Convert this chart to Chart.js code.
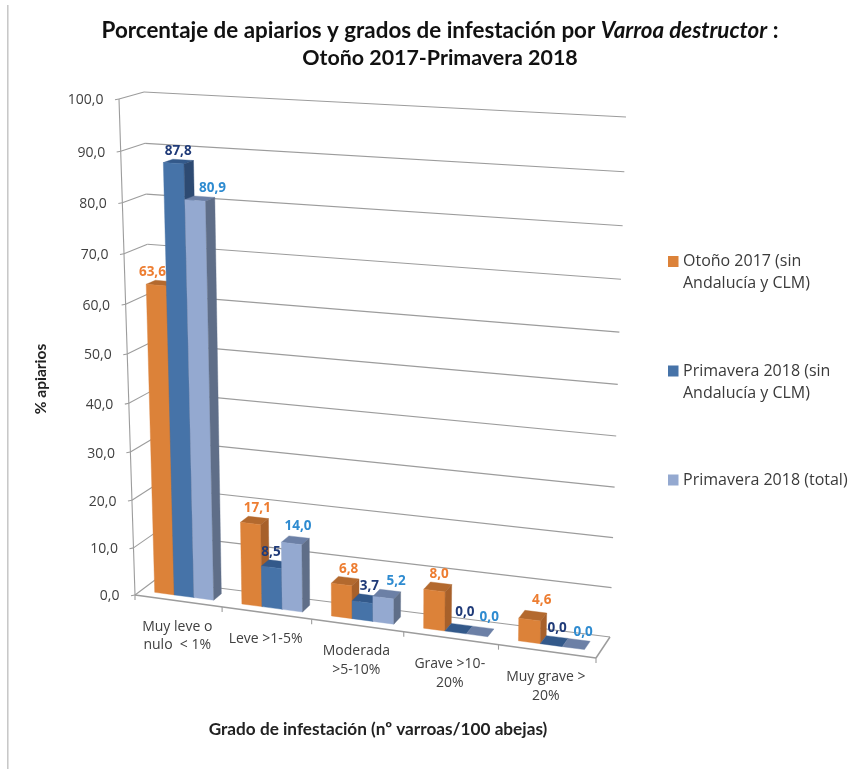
<!DOCTYPE html>
<html><head><meta charset="utf-8">
<style>html,body{margin:0;padding:0;background:#fff}canvas{display:block;filter:blur(0.45px)}</style>
<script src="https://cdn.jsdelivr.net/npm/chart.js@4"></script></head>
<body><canvas id="c" width="856" height="769"></canvas>
<script>
const categories=[['Muy leve o','nulo  < 1%'],['Leve >1-5%'],['Moderada','>5-10%'],['Grave >10-','20%'],['Muy grave >','20%']];
const otono2017=[63.6,17.1,6.8,8.0,4.6];
const primavera2018=[87.8,8.5,3.7,0.0,0.0];
const primavera2018Total=[80.9,14.0,5.2,0.0,0.0];
const seriesNames=['Otoño 2017 (sin Andalucía y CLM)','Primavera 2018 (sin Andalucía y CLM)','Primavera 2018 (total)'];
const legendLines=[['Otoño 2017 (sin','Andalucía y CLM)'],['Primavera 2018 (sin','Andalucía y CLM)'],['Primavera 2018 (total)']];
const yTicks=[0,10,20,30,40,50,60,70,80,90,100];

const faceColors=['#DC8239','#4673A8','#94A9D0'];
const sideColors=['#A7602A','#2D4A72','#5F6E88'];
const topColors=['#B3692E','#33598A','#6C80A6'];
const labelColors=['#ED7D31','#1F3A78','#2E8BD0'];
const GRID='#9c9c9c';
const TXT='#404040';
const SANS='"Open Sans"';
const D0=0.30,D1=0.70;
const fmt=v=>v.toFixed(1).replace('.',',');
// label nudges (px) by [series][category]
const nudge={0:{0:[-13,0],1:[-1,0],3:[-2,0],4:[6,-3]},
             1:{0:[-5,0],1:[-8,0],3:[3,-4]},
             2:{0:[8,0],1:[-1,-2],2:[6,0],3:[6,-1],4:[4,1]}};

// 3D box corners of the plot (front/back, left/right, bottom/top)
const C={flb:[135,595],frb:[596,658],flt:[119,99],frt:[607,130],blb:[155,580],brb:[610,637],blt:[144,92],brt:[626,117]};
const warp=(t,k)=>t*(1+k)/(1+k*t);
function P(u,v,d){
  const a=warp(u,-0.068),b=warp(v,-0.055);
  const l=(p,q,t)=>[p[0]+(q[0]-p[0])*t,p[1]+(q[1]-p[1])*t];
  const fb=l(C.flb,C.frb,a),ft=l(C.flt,C.frt,a),bb=l(C.blb,C.brb,a),bt=l(C.blt,C.brt,a);
  return l(l(fb,ft,b),l(bb,bt,b),d);
}
function line(ctx,a,b){ctx.beginPath();ctx.moveTo(a[0],a[1]);ctx.lineTo(b[0],b[1]);ctx.stroke();}
function quad(ctx,pts,col){ctx.fillStyle=col;ctx.beginPath();pts.forEach((p,i)=>i?ctx.lineTo(p[0],p[1]):ctx.moveTo(p[0],p[1]));ctx.closePath();ctx.fill();ctx.strokeStyle=col;ctx.lineWidth=0.4;ctx.stroke();}
function txt(ctx,s,x,y,font,col,al){ctx.font=font;ctx.fillStyle=col;ctx.textAlign=al||'center';ctx.textBaseline='middle';ctx.fillText(s,x,y);}

const scene={id:'scene',
 beforeDatasetsDraw(ch){
  const ctx=ch.ctx,a=ch.chartArea,ys=ch.scales.y,xs=ch.scales.x;
  ctx.save();
  // frame line
  ctx.strokeStyle='#c6c6c6';ctx.lineWidth=1.5;line(ctx,[7.8,5],[7.8,769]);
  // grid
  ctx.strokeStyle=GRID;ctx.lineWidth=1.1;
  ys.ticks.forEach(t=>{
    const v=(a.bottom-ys.getPixelForValue(t.value))/(a.bottom-a.top);
    const f=P(0,v,0),b=P(0,v,1),r=P(1,v,1);
    line(ctx,[f[0]-4,f[1]+0.8],f);line(ctx,f,b);line(ctx,b,r);
    txt(ctx,t.label,f[0]-15.5,f[1]+1.5,'14px '+SANS,TXT,'right');
  });
  line(ctx,P(0,0,0),P(0,1,0));
  ctx.lineWidth=1.5;
  line(ctx,P(0,0,0),P(1,0,0));line(ctx,P(1,0,0),P(1,0,1));
  ctx.lineWidth=1.1;
  const n=categories.length;
  for(let i=0;i<=n;i++){const p=P(i/n,0,0);line(ctx,p,[p[0],p[1]+5]);}
  // category labels
  xs.ticks.forEach((t,i)=>{
    const u=(xs.getPixelForTick(i)-a.left)/(a.right-a.left);
    const p=P(u,0,0),lab=categories[i];
    const y0=p[1]+26;
    lab.forEach((s,j)=>txt(ctx,s,p[0]-1,y0+j*18.5,'14px '+SANS,TXT));
  });
  ctx.restore();
 },
 beforeDatasetDraw(){return false;},
 afterDatasetsDraw(ch){
  const ctx=ch.ctx,a=ch.chartArea;
  const U=x=>(x-a.left)/(a.right-a.left),V=y=>(a.bottom-y)/(a.bottom-a.top);
  ctx.save();
  const metas=ch.data.datasets.map((_,i)=>ch.getDatasetMeta(i));
  const n=categories.length;
  for(let c=0;c<n;c++)metas.forEach((m,s)=>{
    const e=m.data[c],u0=U(e.x-e.width/2),u1=U(e.x+e.width/2),v=V(e.y);
    quad(ctx,[P(u0,v,D0),P(u1,v,D0),P(u1,v,D1),P(u0,v,D1)],topColors[s]);
    if(v>0.0001){
      quad(ctx,[P(u0,0,D0),P(u1,0,D0),P(u1,v,D0),P(u0,v,D0)],faceColors[s]);
      quad(ctx,[P(u1,0,D0),P(u1,0,D1),P(u1,v,D1),P(u1,v,D0)],sideColors[s]);
    }
  });
  // value labels
  for(let c=0;c<n;c++)metas.forEach((m,s)=>{
    const e=m.data[c],u=U(e.x),v=V(e.y),p=P(u,v,D1);
    const nd=(nudge[s]&&nudge[s][c])||[0,0];
    txt(ctx,fmt(ch.data.datasets[s].data[c]),p[0]+nd[0],p[1]-9+nd[1],'bold 13.5px '+SANS,labelColors[s]);
  });
  // legend
  const ly=[261.5,371,480];
  ly.forEach((y,s)=>{
    ctx.fillStyle=faceColors[s];ctx.fillRect(668,y-5.5,10.5,11);
    legendLines[s].forEach((t,j)=>txt(ctx,t,683,y+j*22,'16px '+SANS,'#3a3a3a','left'));
  });
  // titles
  const f1='bold 22.4px Lato',f2='italic bold 22.4px Lato';
  const s1='Porcentaje de apiarios y grados de infestación por ',s2='Varroa destructor',s3=' :';
  ctx.font=f1;const w1=ctx.measureText(s1).width,w3=ctx.measureText(s3).width;
  ctx.font=f2;const w2=ctx.measureText(s2).width;
  let x=440-(w1+w2+w3)/2;
  txt(ctx,s1,x,30.5,f1,'#111','left');x+=w1;
  txt(ctx,s2,x,30.5,f2,'#111','left');x+=w2;
  txt(ctx,s3,x,30.5,f1,'#111','left');
  txt(ctx,'Otoño 2017-Primavera 2018',440,58,'bold 21.4px Lato','#111');
  txt(ctx,'Grado de infestación (nº varroas/100 abejas)',378,729,'bold 17.2px Lato','#222');
  ctx.translate(41,379);ctx.rotate(-Math.PI/2);
  txt(ctx,'% apiarios',0,0,'bold 15.5px Lato','#222');
  ctx.restore();
 }};

new Chart(document.getElementById('c'),{
 type:'bar',
 data:{labels:categories,datasets:[
  {label:seriesNames[0],data:otono2017,backgroundColor:faceColors[0]},
  {label:seriesNames[1],data:primavera2018,backgroundColor:faceColors[1]},
  {label:seriesNames[2],data:primavera2018Total,backgroundColor:faceColors[2]}]},
 options:{responsive:false,animation:false,
  layout:{padding:{left:135,right:260,top:99,bottom:174}},
  categoryPercentage:0.68,barPercentage:1,
  plugins:{legend:{display:false},title:{display:false},tooltip:{enabled:false}},
  scales:{
   x:{display:false},
   y:{display:false,min:0,max:100,afterBuildTicks(s){s.ticks=yTicks.map(v=>({value:v}));},
      ticks:{callback:v=>fmt(v)}}
  }},
 plugins:[scene]});
</script></body></html>
